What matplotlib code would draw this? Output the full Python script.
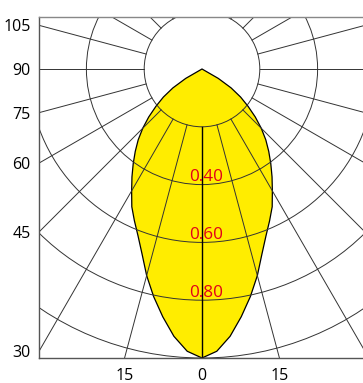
import numpy as np
import matplotlib
matplotlib.use("Agg")
import matplotlib.pyplot as plt
from matplotlib.patches import Circle, Polygon

# intensity curve (relative), angle from nadir in degrees
angles = [0, 3, 6, 9, 12, 15, 18, 21, 24, 27, 30, 33, 36, 39, 42, 45, 48, 51, 54, 57, 60, 63]
intensity = [1.0, 0.978, 0.93, 0.868, 0.805, 0.74, 0.672, 0.618, 0.575, 0.535, 0.487,
             0.445, 0.405, 0.367, 0.33, 0.29, 0.248, 0.205, 0.165, 0.12, 0.065, 0.0]

ring_values = [0.2, 0.4, 0.6, 0.8, 1.0]
ring_labels = ["0.40", "0.60", "0.80"]
ring_label_values = [0.4, 0.6, 0.8]

spoke_angles = list(range(-180, 181, 15))
side_ticks = [105, 90, 75, 60, 45, 30]
bottom_ticks = [-15, 0, 15]

plt.rcParams['font.family'] = ['Open Sans', 'DejaVu Sans']

fig = plt.figure(figsize=(3.63, 3.83), dpi=100)
ax = fig.add_axes([39/363, 25/383, 326/363, 341/383])
xmax = 163/289
ax.set_xlim(-xmax, xmax)
ax.set_ylim(-1.0, 52/289)

# yellow light distribution, mirrored on both sides
a = np.radians(angles)
r = np.array(intensity)
right = np.column_stack([r*np.sin(a), -r*np.cos(a)])
left = right[::-1].copy()
left[:, 0] *= -1
pts = np.vstack([right, left])
ax.add_patch(Polygon(pts, closed=True, facecolor='#ffed00', edgecolor='black', lw=0.9, zorder=1))

# grid: rings and spokes
for rv in ring_values:
    ax.add_patch(Circle((0, 0), rv, fill=False, edgecolor='#333333', lw=0.7, zorder=2))
for ang in spoke_angles:
    t = np.radians(ang)
    c = 'black' if ang == 0 else '#333333'
    w = 1.0 if ang == 0 else 0.7
    ax.plot([0.2*np.sin(t), 2*np.sin(t)], [-0.2*np.cos(t), -2*np.cos(t)], color=c, lw=w, zorder=2)

for lab, rv in zip(ring_labels, ring_label_values):
    ax.text(0.014, -rv + 0.012, lab, color='#e2001a', fontsize=12.3,
            ha='center', va='baseline', zorder=3)

# tick labels where spokes meet the frame
yt = [-xmax/np.tan(np.radians(t)) for t in side_ticks]
ax.set_yticks(yt, [str(t) for t in side_ticks])
xt = [np.tan(np.radians(t)) for t in bottom_ticks]
ax.set_xticks(xt, [str(abs(t)) for t in bottom_ticks])
ax.tick_params(length=0, labelsize=11.5, pad=6)
ax.tick_params(axis='x', pad=7)

for s in ['left', 'top', 'bottom']:
    ax.spines[s].set_color('#555555')
    ax.spines[s].set_linewidth(1.0)
ax.spines['top'].set_color('#888888')
ax.spines['right'].set_visible(False)

fig.savefig("out.png", dpi=100)
